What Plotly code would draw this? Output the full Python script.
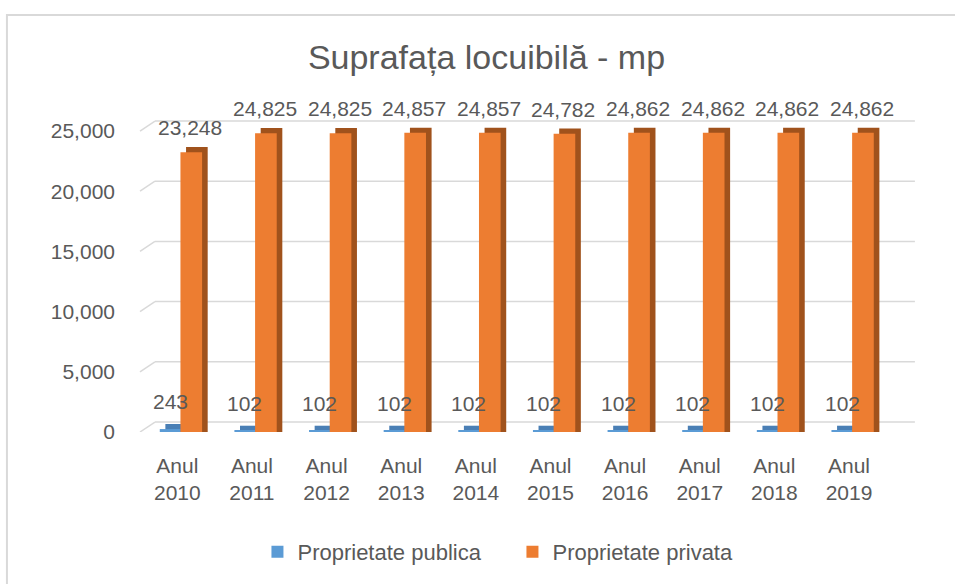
import plotly.graph_objects as go

# data
years = ['Anul<br>2010', 'Anul<br>2011', 'Anul<br>2012', 'Anul<br>2013', 'Anul<br>2014',
         'Anul<br>2015', 'Anul<br>2016', 'Anul<br>2017', 'Anul<br>2018', 'Anul<br>2019']
publica = [243, 102, 102, 102, 102, 102, 102, 102, 102, 102]
privata = [23248, 24825, 24825, 24857, 24857, 24782, 24862, 24862, 24862, 24862]
y_ticks = [0, 5000, 10000, 15000, 20000, 25000]

FONT = 'Liberation Sans'
GREY = '#595959'
BLUE, BLUE_DARK = '#5B9BD5', '#4A7FB5'
ORANGE, ORANGE_DARK = '#ED7D31', '#A0521C'

# fake 3d depth: shift of the dark "side" in category units / y units
dx = 0.075
dy = 420

fig = go.Figure()

# dark side/top faces first (from the floor up), then the front faces
fig.add_trace(go.Bar(x=years, y=[v + dy for v in publica], offset=-0.235 + dx, width=0.28,
                     marker=dict(color=BLUE_DARK, line_width=0), showlegend=False, hoverinfo='skip'))
fig.add_trace(go.Bar(x=years, y=[v + dy for v in privata], offset=0.042 + dx, width=0.29,
                     marker=dict(color=ORANGE_DARK, line_width=0), showlegend=False, hoverinfo='skip'))
fig.add_trace(go.Bar(x=years, y=publica, offset=-0.235, width=0.28, name='Proprietate publica',
                     marker=dict(color=BLUE, line_width=0)))
fig.add_trace(go.Bar(x=years, y=privata, offset=0.042, width=0.29, name='Proprietate privata',
                     marker=dict(color=ORANGE, line_width=0)))

# data labels
for cat, v in zip(years, publica):
    fig.add_annotation(x=cat, y=v, text=f'{v:,}', showarrow=False, xshift=-7, yshift=14,
                       yanchor='bottom', font=dict(family=FONT, size=21, color=GREY))
for cat, v in zip(years, privata):
    fig.add_annotation(x=cat, y=v, text=f'{v:,}', showarrow=False, xshift=13, yshift=11,
                       yanchor='bottom', font=dict(family=FONT, size=21, color=GREY))

# back wall gridlines + side wall diagonals (3d look)
back = 830  # back wall sits ~10px higher than the front
for t in y_ticks:
    fig.add_shape(type='line', xref='paper', yref='y', x0=0.0198, x1=1.025, y0=t + back, y1=t + back,
                  line=dict(color='#D9D9D9', width=1.5), layer='below')
    fig.add_shape(type='line', xref='paper', yref='y', x0=0, x1=0.0198, y0=t, y1=t + back,
                  line=dict(color='#D9D9D9', width=1.5), layer='below')

# chart border
fig.add_shape(type='rect', xref='paper', yref='paper', x0=-0.176, x1=2, y0=-2, y1=1.332,
              line=dict(color='#D9D9D9', width=2), layer='below')

fig.update_layout(
    width=955, height=584,
    margin=dict(l=140, r=59, t=119, b=152),
    paper_bgcolor='white', plot_bgcolor='white',
    barmode='overlay',
    title=dict(text='Suprafața locuibilă - mp', x=0.5094, xanchor='center', xref='container',
               y=1 - 57 / 584, yanchor='middle', yref='container',
               font=dict(family=FONT, size=34, color=GREY)),
    font=dict(family=FONT, size=21, color=GREY),
    legend=dict(orientation='h', x=0.5366, xref='container', xanchor='center',
                y=32 / 584, yref='container', yanchor='middle',
                font=dict(family=FONT, size=22, color=GREY), itemwidth=30, entrywidth=210),
    showlegend=True,
)
fig.update_xaxes(showgrid=False, showline=False, zeroline=False, ticks='',
                 tickfont=dict(family=FONT, size=21, color=GREY), ticklabelstandoff=19)
fig.update_yaxes(range=[0, 26000], tickvals=y_ticks, tickformat=',', showgrid=False,
                 zeroline=False, showline=False, ticks='', ticklabelstandoff=24,
                 tickfont=dict(family=FONT, size=21, color=GREY))

# the page's default body margin would push the figure 8px in
fig.write_html('out.html', config={'displayModeBar': False},
               post_script="document.body.style.margin='0';")
